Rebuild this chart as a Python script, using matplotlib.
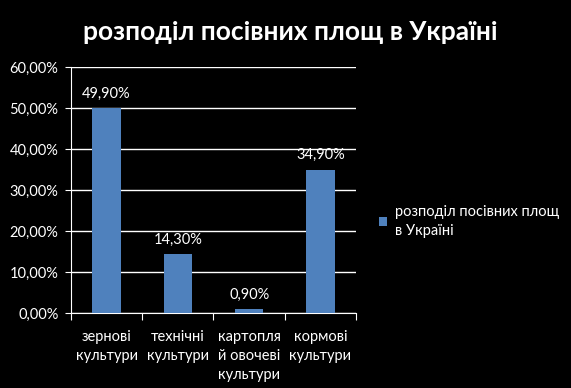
import numpy as np
import matplotlib.pyplot as plt
from matplotlib.ticker import FuncFormatter

categories = ["зернові\nкультури", "технічні\nкультури", "картопля\nй овочеві\nкультури", "кормові\nкультури"]
values = [49.9, 14.3, 0.9, 34.9]
series_name = "розподіл посівних площ\nв Україні"
title = "розподіл посівних площ в Україні"

plt.rcParams['font.family'] = ['Lato', 'DejaVu Sans']
bar_color = "#4F81BD"

fig = plt.figure(figsize=(5.71, 3.88), dpi=100, facecolor="black")
ax = fig.add_axes([0.1243, 0.1933, 0.4992, 0.634])
ax.set_facecolor("black")

x = np.arange(len(values))
bars = ax.bar(x, values, width=0.4, color=bar_color, label=series_name, zorder=3)

for xi, v in zip(x, values):
    ax.text(xi, v + 1.9, f"{v:.2f}%".replace(".", ","), ha="center", va="bottom",
            color="white", fontsize=10.5)

ax.set_xlim(-0.5, len(values) - 0.5)
ax.set_ylim(0, 60)
ax.set_yticks(np.arange(0, 61, 10))
ax.yaxis.set_major_formatter(FuncFormatter(lambda v, p: f"{v:.2f}%".replace(".", ",")))
ax.grid(axis="y", color="white", linewidth=1, zorder=0)

ax.set_xticks(np.arange(-0.5, len(values), 1.0))
ax.set_xticklabels([])
ax.set_xticks(x, minor=True)
ax.set_xticklabels(categories, minor=True, color="white", fontsize=10.5, linespacing=1.45, va="top")
ax.tick_params(axis="x", which="minor", length=0, pad=12)
ax.tick_params(axis="x", which="major", length=5, color="white", direction="out")
ax.tick_params(axis="y", length=4, color="white", labelcolor="white", labelsize=10.5, pad=5)

for s in ["top", "right"]:
    ax.spines[s].set_visible(False)
ax.spines["left"].set_color("white")
ax.spines["bottom"].set_color("white")

fig.text(0.508, 0.918, title, ha="center", va="center", color="white",
         fontsize=19, fontweight="bold")

leg = fig.legend(loc="center left", bbox_to_anchor=(0.64, 0.43), frameon=False,
                 fontsize=10.5, handlelength=0.6, handleheight=0.6, handletextpad=0.5,
                 labelcolor="white")
for t in leg.get_texts():
    t.set_linespacing(1.45)

plt.savefig("out.png", facecolor="black")
